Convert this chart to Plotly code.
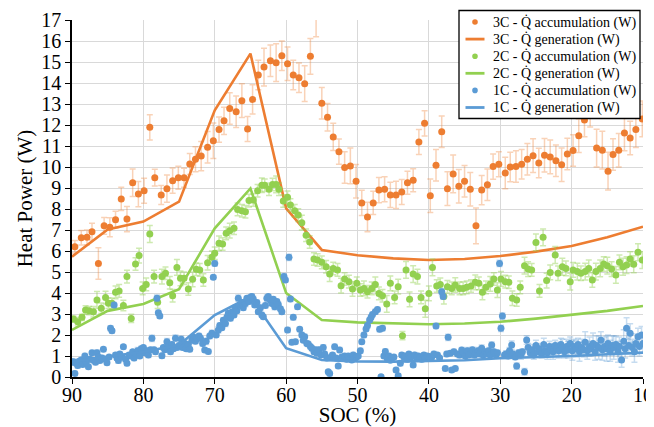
import plotly.graph_objects as go

# ---------------- Generation (model) curves ----------------
gen_soc = [90, 85, 80, 75, 70, 65, 60, 55, 50, 45, 40, 35, 30, 25, 20, 15, 10]
gen_3c = [5.73, 7.03, 7.40, 8.35, 12.70, 15.40, 8.03, 6.05, 5.80, 5.65, 5.57, 5.62, 5.76, 5.97, 6.24, 6.65, 7.16]
gen_2c = [2.24, 3.15, 3.48, 4.18, 7.08, 8.98, 4.00, 2.71, 2.60, 2.55, 2.51, 2.55, 2.63, 2.78, 2.95, 3.15, 3.38]
gen_1c = [0.73, 0.97, 1.20, 1.52, 2.95, 3.82, 1.37, 0.81, 0.74, 0.73, 0.75, 0.80, 0.89, 0.94, 1.00, 1.08, 1.16]

# ---------------- 3C accumulation ----------------
acc3_soc = [89.6, 88.7, 87.9, 87.2, 86.3, 85.5, 84.7, 83.9, 83.1, 82.3, 81.5, 80.7, 79.9, 79.1, 78.4,
            77.5, 76.7, 75.9, 75.1, 74.3, 73.5, 72.7, 71.9, 71.0, 70.2, 69.4, 68.7, 67.9, 67.0, 66.2,
            65.4, 64.7, 63.9, 63.1, 62.2, 61.4, 60.6, 59.8, 59.0, 58.2, 57.4, 56.6, 55.8, 55.0, 54.2,
            53.4, 52.6, 51.8, 51.0, 50.2, 49.4, 48.6, 47.8, 47.0, 46.2, 45.4, 44.6, 43.8, 43.0, 42.2,
            41.4, 40.6, 39.8, 39.0, 38.2, 37.4, 36.6, 35.8, 35.0, 34.2, 33.4, 32.6, 31.8, 31.0, 30.2,
            29.3, 28.6, 27.8, 27.0, 26.2, 25.4, 24.6, 23.8, 23.0, 22.2, 21.4, 20.6, 19.8, 19.0, 18.2,
            17.4, 16.5, 15.7, 14.9, 14.2, 13.4, 12.6, 11.8, 11.0, 10.1]
acc3_val = [6.20, 6.63, 6.65, 6.92, 5.41, 7.20, 7.13, 7.49, 8.48, 7.52, 9.25, 8.71, 8.87, 11.89, 9.49,
            8.67, 8.97, 9.35, 9.49, 9.49, 10.14, 10.37, 10.52, 10.94, 11.25, 11.78, 12.20, 12.79, 12.63, 13.16,
            11.81, 13.22, 14.38, 14.76, 15.06, 14.97, 15.30, 14.92, 14.38, 14.25, 13.97, 15.27, 17.30, 13.03, 12.37,
            11.43, 10.73, 9.98, 10.05, 9.32, 8.29, 7.62, 8.29, 8.90, 8.94, 8.67, 8.67, 8.81, 9.25, 9.37,
            11.19, 12.08, 8.63, 10.08, 11.68, 8.97, 9.67, 9.08, 9.32, 8.94, 7.20, 8.90, 9.16, 10.02, 10.13,
            9.71, 10.00, 10.02, 10.13, 10.37, 10.54, 10.19, 10.56, 10.48, 10.30, 10.11, 10.62, 10.78, 11.49, 12.24,
            12.80, 10.90, 10.80, 9.80, 10.59, 10.80, 11.62, 11.38, 11.78, 12.29]
acc3_err = [0.30, 0.35, 0.35, 0.40, 0.75, 0.40, 0.45, 0.40, 0.55, 0.60, 0.65, 0.60, 0.60, 0.60, 0.40,
            0.45, 0.65, 0.60, 0.55, 0.45, 0.50, 0.60, 0.70, 0.75, 0.85, 0.60, 0.65, 0.75, 0.75, 0.80,
            0.60, 0.70, 0.70, 0.90, 0.75, 0.90, 0.70, 0.80, 0.70, 0.70, 0.85, 0.85, 1.10, 0.75, 0.65,
            0.65, 0.60, 0.75, 0.85, 0.80, 0.60, 0.70, 0.55, 0.60, 0.60, 0.60, 0.65, 0.60, 0.55, 0.55,
            0.60, 0.60, 0.80, 0.75, 0.75, 0.80, 0.90, 0.80, 0.75, 0.80, 0.85, 0.70, 0.75, 0.60, 0.60,
            0.75, 0.70, 0.75, 0.70, 0.75, 0.80, 0.70, 0.80, 0.80, 0.75, 0.80, 0.75, 0.75, 0.80, 0.80,
            0.90, 0.90, 0.90, 0.90, 0.75, 0.80, 0.85, 0.80, 0.85, 0.85]

# ---------------- 2C accumulation ----------------
acc2_soc = [89.8, 89.2, 88.6, 88.1, 87.6, 87.0, 86.5, 85.9, 85.3, 84.9, 84.4, 83.9, 83.4, 82.8, 82.3,
            81.7, 81.1, 80.6, 80.1, 79.6, 79.1, 78.5, 78.0, 77.4, 76.9, 76.3, 75.9, 75.3, 74.8, 74.3,
            73.7, 73.1, 72.6, 72.1, 71.6, 71.0, 70.4, 70.0, 69.4, 68.9, 68.4, 67.9, 67.3, 66.8, 66.2,
            65.7, 65.2, 64.6, 64.0, 63.4, 63.0, 62.4, 61.9, 61.4, 61.0, 60.4, 59.8, 59.4, 58.8, 58.3,
            57.8, 57.2, 56.7, 56.1, 55.6, 55.0, 54.4, 53.9, 53.4, 52.8, 52.3, 51.8, 51.2, 50.7, 50.1,
            49.6, 49.1, 48.6, 48.0, 47.5, 47.0, 46.5, 45.9, 45.4, 44.8, 44.3, 43.7, 43.2, 42.7, 42.2,
            41.6, 41.1, 40.5, 40.0, 39.5, 38.9, 38.4, 37.9, 37.4, 36.8, 36.3, 35.7, 35.2, 34.7, 34.1,
            33.5, 33.0, 32.5, 32.0, 31.4, 30.9, 30.4, 29.9, 29.3, 28.8, 28.3, 27.7, 27.2, 26.6, 26.1,
            25.6, 25.0, 24.5, 24.0, 23.5, 23.0, 22.3, 21.9, 21.3, 20.8, 20.2, 19.8, 19.2, 18.7, 18.1,
            17.6, 17.1, 16.6, 16.0, 15.5, 15.0, 14.4, 13.8, 13.3, 12.8, 12.3, 11.8, 11.3, 10.7, 10.1]
acc2_val = [2.76, 2.63, 2.84, 3.19, 3.16, 3.11, 3.67, 3.27, 3.78, 3.51, 3.51, 4.03, 4.10, 3.40, 4.78,
            2.79, 5.38, 5.78, 4.22, 4.41, 6.81, 4.78, 3.56, 4.78, 4.94, 4.49, 3.87, 5.22, 4.70, 4.70,
            4.19, 4.65, 5.13, 5.10, 4.62, 5.44, 5.70, 5.89, 6.37, 6.33, 6.84, 6.97, 7.08, 7.98, 7.92,
            7.87, 8.40, 8.43, 8.87, 9.13, 9.13, 8.94, 9.17, 9.17, 8.94, 8.38, 8.56, 8.19, 7.92, 7.71,
            7.35, 6.75, 6.43, 5.62, 5.57, 5.46, 5.25, 4.90, 5.17, 5.10, 4.35, 4.67, 4.54, 4.19, 4.46,
            4.14, 4.22, 4.06, 4.22, 4.41, 3.98, 3.87, 3.48, 4.46, 3.79, 4.30, 1.97, 5.10, 3.70, 4.90,
            4.78, 3.79, 3.25, 3.98, 5.22, 4.33, 4.41, 3.83, 4.30, 4.22, 4.38, 4.22, 4.22, 4.27, 4.33,
            4.51, 4.46, 4.03, 4.27, 4.43, 4.67, 4.14, 4.67, 4.54, 4.51, 3.75, 3.67, 4.27, 5.30, 5.14,
            5.10, 6.41, 4.10, 6.65, 4.59, 4.98, 5.81, 4.94, 5.25, 5.17, 4.54, 5.10, 5.02, 4.94, 5.02,
            5.17, 4.62, 5.02, 5.17, 5.38, 5.30, 5.14, 4.86, 5.46, 5.25, 5.33, 5.62, 5.37, 5.94, 5.57]
acc2_err = [0.15, 0.20, 0.15, 0.20, 0.20, 0.25, 0.40, 0.25, 0.30, 0.25, 0.25, 0.30, 0.30, 0.25, 0.30,
            0.20, 0.30, 0.35, 0.30, 0.30, 0.40, 0.30, 0.30, 0.35, 0.30, 0.30, 0.30, 0.38, 0.35, 0.30,
            0.30, 0.35, 0.30, 0.30, 0.30, 0.35, 0.30, 0.30, 0.35, 0.30, 0.30, 0.35, 0.30, 0.30, 0.30,
            0.30, 0.30, 0.30, 0.30, 0.35, 0.30, 0.30, 0.30, 0.40, 0.30, 0.30, 0.30, 0.30, 0.30, 0.30,
            0.35, 0.30, 0.30, 0.30, 0.30, 0.30, 0.30, 0.35, 0.30, 0.30, 0.35, 0.30, 0.30, 0.35, 0.30,
            0.30, 0.35, 0.30, 0.30, 0.35, 0.30, 0.30, 0.40, 0.35, 0.30, 0.35, 0.20, 0.40, 0.35, 0.40,
            0.35, 0.30, 0.40, 0.35, 0.40, 0.30, 0.30, 0.35, 0.30, 0.30, 0.35, 0.30, 0.30, 0.30, 0.30,
            0.35, 0.30, 0.35, 0.30, 0.35, 0.30, 0.35, 0.35, 0.30, 0.30, 0.35, 0.30, 0.30, 0.40, 0.35,
            0.30, 0.40, 0.30, 0.40, 0.35, 0.35, 0.40, 0.35, 0.40, 0.35, 0.40, 0.35, 0.40, 0.35, 0.40,
            0.40, 0.35, 0.40, 0.40, 0.35, 0.40, 0.35, 0.40, 0.35, 0.40, 0.40, 0.35, 0.40, 0.40, 0.40]

# ---------------- 1C accumulation ----------------
acc1_soc = [90.0, 89.8, 89.6, 89.4, 89.2, 89.0, 88.7, 88.5, 88.2, 88.0, 87.7, 87.5, 87.2, 87.0, 86.7,
            86.5, 86.3, 86.1, 85.8, 85.6, 85.3, 85.1, 84.8, 84.6, 84.4, 84.1, 83.9, 83.7, 83.5, 83.3,
            83.0, 82.8, 82.5, 82.3, 82.0, 81.8, 81.5, 81.3, 81.0, 80.8, 80.5, 80.3, 80.0, 79.8, 79.5,
            79.3, 79.0, 78.8, 78.5, 78.3, 78.1, 77.9, 77.7, 77.4, 77.2, 77.0, 76.7, 76.5, 76.2, 76.0,
            75.8, 75.5, 75.3, 75.0, 74.7, 74.5, 74.2, 74.0, 73.7, 73.5, 73.2, 73.0, 72.7, 72.5, 72.2,
            72.0, 71.7, 71.4, 71.2, 70.9, 70.7, 70.4, 70.2, 70.0, 69.8, 69.5, 69.3, 69.0, 68.8, 68.5,
            68.3, 68.1, 67.8, 67.6, 67.3, 67.1, 66.9, 66.7, 66.4, 66.2, 66.0, 65.7, 65.5, 65.2, 65.0,
            64.8, 64.6, 64.4, 64.1, 63.9, 63.6, 63.4, 63.2, 62.9, 62.7, 62.5, 62.2, 62.0, 61.8, 61.6,
            61.3, 61.1, 60.8, 60.6, 60.3, 60.1, 59.8, 59.6, 59.4, 59.2, 59.0, 58.7, 58.4, 58.1, 57.8,
            57.6, 57.4, 57.1, 56.9, 56.6, 56.4, 56.1, 55.9, 55.7, 55.4, 55.1, 54.8, 54.6, 54.3, 54.1,
            53.9, 53.7, 53.5, 53.2, 53.0, 52.7, 52.5, 52.2, 52.0, 51.8, 51.5, 51.3, 51.0, 50.8, 50.6,
            50.3, 50.1, 49.9, 49.6, 49.4, 49.1, 48.8, 48.6, 48.3, 48.1, 47.9, 47.5, 47.2, 46.9, 46.7,
            46.5, 46.3, 46.1, 45.8, 45.6, 45.4, 45.2, 44.9, 44.6, 44.3, 44.0, 43.8, 43.5, 43.3, 43.0,
            42.8, 42.5, 42.2, 42.0, 41.7, 41.5, 41.2, 41.0, 40.7, 40.5, 40.2, 39.8, 39.6, 39.3, 39.0,
            38.8, 38.5, 38.2, 38.0, 37.7, 37.5, 37.3, 37.0, 36.8, 36.5, 36.3, 36.0, 35.7, 35.4, 35.2,
            34.9, 34.6, 34.4, 34.1, 33.9, 33.6, 33.4, 33.1, 32.9, 32.6, 32.4, 32.1, 31.9, 31.6, 31.4,
            31.2, 30.9, 30.6, 30.4, 30.1, 29.9, 29.7, 29.4, 29.2, 28.9, 28.7, 28.4, 28.2, 27.9, 27.7,
            27.4, 27.1, 26.9, 26.6, 26.3, 26.1, 25.8, 25.5, 25.3, 25.0, 24.7, 24.5, 24.2, 23.9, 23.7,
            23.4, 23.1, 22.9, 22.6, 22.3, 22.1, 21.8, 21.5, 21.3, 21.0, 20.7, 20.5, 20.2, 19.9, 19.7,
            19.4, 19.1, 18.9, 18.6, 18.3, 18.1, 17.8, 17.5, 17.3, 17.0, 16.7, 16.5, 16.2, 15.9, 15.7,
            15.4, 15.1, 14.9, 14.6, 14.3, 14.1, 13.8, 13.5, 13.3, 13.0, 12.7, 12.5, 12.3, 12.0, 11.8,
            11.5, 11.2, 11.0, 10.7, 10.5, 10.2, 10.0]
acc1_val = [0.70, 0.73, 0.17, 0.65, 0.55, 0.75, 0.81, 0.60, 1.00, 0.72, 0.49, 0.85, 1.16, 0.80, 0.70,
            1.16, 0.95, 0.78, 0.90, 1.32, 0.85, 0.68, 0.95, 2.32, 2.20, 3.43, 1.05, 0.90, 0.78, 1.10,
            0.95, 1.44, 0.85, 0.65, 1.05, 1.00, 1.20, 0.90, 1.10, 1.25, 1.00, 1.35, 1.40, 1.15, 1.25,
            1.05, 1.30, 1.84, 1.30, 1.20, 3.75, 3.06, 2.90, 1.01, 1.40, 1.30, 1.68, 1.45, 1.20, 1.55,
            1.35, 1.85, 1.40, 1.50, 1.80, 1.40, 1.60, 1.35, 1.55, 1.32, 1.75, 1.90, 1.70, 1.84, 1.95,
            1.85, 1.60, 1.29, 1.70, 1.21, 1.95, 2.08, 4.75, 5.41, 2.00, 2.24, 2.45, 2.35, 2.70, 2.55,
            2.85, 3.03, 2.80, 3.10, 2.95, 3.30, 3.15, 3.75, 3.40, 3.55, 3.30, 3.50, 3.75, 3.60, 3.80,
            3.83, 3.70, 3.43, 3.55, 3.11, 3.30, 2.95, 2.87, 3.40, 3.75, 3.83, 3.65, 3.50, 3.70, 3.35,
            3.60, 3.45, 3.25, 3.11, 4.78, 4.62, 2.24, 5.70, 3.71, 1.65, 2.84, 1.68, 3.35, 2.27, 2.00,
            1.75, 1.92, 1.60, 1.57, 1.45, 1.37, 1.20, 1.30, 1.13, 1.30, 1.05, 1.41, 1.10, 0.90, 0.25,
            0.17, 0.95, 1.05, 1.44, 0.90, 0.52, 1.29, 0.95, 0.89, 1.00, 0.85, 1.00, 0.90, 0.81, 1.05,
            0.90, 0.97, 1.00, 1.25, 1.68, 2.00, 2.29, 2.45, 2.71, 2.85, 2.98, 3.11, 3.22, 2.27, 0.01,
            2.32, 1.00, 1.21, 0.85, 1.00, 0.80, 0.89, 0.95, 0.33, 0.06, 0.65, 1.05, 0.95, 1.00, 0.85,
            1.10, 0.95, 0.57, 1.05, 0.90, 1.00, 0.95, 0.85, 1.05, 0.90, 1.00, 0.97, 0.95, 1.10, 2.43,
            1.05, 0.90, 4.06, 3.83, 0.41, 1.10, 1.89, 1.13, 0.33, 1.20, 0.41, 1.10, 1.05, 1.29, 1.15,
            1.00, 1.25, 1.05, 1.10, 1.30, 1.05, 1.15, 1.25, 1.10, 1.37, 1.05, 1.20, 1.10, 1.25, 1.05,
            1.52, 1.20, 1.05, 1.15, 5.41, 2.32, 2.90, 1.05, 1.10, 1.00, 1.25, 1.52, 1.10, 0.95, 0.52,
            1.15, 1.05, 1.20, 0.25, 1.76, 1.40, 1.15, 1.30, 1.05, 1.50, 1.20, 1.35, 1.10, 1.55, 1.25,
            1.15, 1.45, 1.30, 1.20, 1.50, 1.35, 1.25, 1.55, 1.40, 1.20, 1.45, 1.30, 1.60, 1.25, 1.45,
            1.35, 1.55, 1.20, 1.40, 1.30, 1.65, 1.25, 1.45, 1.35, 1.60, 1.20, 1.50, 1.40, 1.75, 1.30,
            1.45, 1.35, 1.60, 1.25, 1.50, 1.40, 1.55, 1.20, 1.45, 0.81, 1.70, 1.35, 2.32, 1.50, 2.08,
            1.40, 1.20, 1.60, 1.92, 1.45, 2.00, 1.60]
acc1_err = [0.10, 0.12, 0.10, 0.10, 0.12, 0.10, 0.12, 0.10, 0.12, 0.10, 0.10, 0.12, 0.10, 0.12, 0.10,
            0.12, 0.10, 0.10, 0.12, 0.10, 0.12, 0.10, 0.10, 0.12, 0.10, 0.12, 0.10, 0.10, 0.12, 0.10,
            0.12, 0.10, 0.12, 0.10, 0.10, 0.12, 0.10, 0.12, 0.10, 0.15, 0.10, 0.12, 0.10, 0.12, 0.10,
            0.12, 0.10, 0.15, 0.10, 0.12, 0.15, 0.12, 0.10, 0.12, 0.10, 0.12, 0.15, 0.10, 0.12, 0.10,
            0.12, 0.15, 0.10, 0.12, 0.15, 0.10, 0.12, 0.10, 0.12, 0.10, 0.15, 0.12, 0.10, 0.15, 0.12,
            0.10, 0.12, 0.10, 0.15, 0.10, 0.12, 0.15, 0.10, 0.12, 0.10, 0.15, 0.12, 0.10, 0.12, 0.15,
            0.12, 0.10, 0.12, 0.15, 0.10, 0.12, 0.10, 0.15, 0.12, 0.10, 0.12, 0.15, 0.10, 0.12, 0.10,
            0.12, 0.15, 0.10, 0.12, 0.10, 0.15, 0.12, 0.10, 0.12, 0.15, 0.10, 0.12, 0.10, 0.12, 0.15,
            0.10, 0.12, 0.10, 0.12, 0.15, 0.10, 0.12, 0.15, 0.12, 0.10, 0.12, 0.10, 0.12, 0.10, 0.12,
            0.10, 0.12, 0.10, 0.12, 0.10, 0.12, 0.10, 0.12, 0.10, 0.12, 0.10, 0.12, 0.10, 0.12, 0.10,
            0.10, 0.12, 0.10, 0.12, 0.10, 0.10, 0.12, 0.10, 0.12, 0.10, 0.12, 0.10, 0.12, 0.10, 0.12,
            0.10, 0.12, 0.10, 0.12, 0.10, 0.12, 0.10, 0.12, 0.10, 0.12, 0.10, 0.12, 0.10, 0.12, 0.10,
            0.12, 0.10, 0.12, 0.10, 0.12, 0.10, 0.12, 0.10, 0.10, 0.10, 0.12, 0.10, 0.12, 0.10, 0.12,
            0.10, 0.12, 0.10, 0.12, 0.10, 0.12, 0.10, 0.12, 0.10, 0.12, 0.10, 0.12, 0.10, 0.12, 0.12,
            0.10, 0.12, 0.15, 0.12, 0.10, 0.12, 0.15, 0.12, 0.10, 0.12, 0.10, 0.12, 0.15, 0.12, 0.15,
            0.12, 0.15, 0.12, 0.15, 0.12, 0.15, 0.12, 0.15, 0.12, 0.15, 0.12, 0.15, 0.12, 0.15, 0.12,
            0.15, 0.12, 0.15, 0.12, 0.15, 0.15, 0.15, 0.12, 0.15, 0.12, 0.15, 0.20, 0.15, 0.12, 0.15,
            0.15, 0.20, 0.15, 0.15, 0.20, 0.20, 0.15, 0.25, 0.20, 0.25, 0.20, 0.25, 0.20, 0.30, 0.25,
            0.30, 0.25, 0.30, 0.35, 0.25, 0.30, 0.35, 0.30, 0.40, 0.30, 0.35, 0.40, 0.30, 0.45, 0.35,
            0.40, 0.30, 0.45, 0.40, 0.35, 0.50, 0.40, 0.45, 0.35, 0.50, 0.40, 0.45, 0.55, 0.40, 0.50,
            0.45, 0.60, 0.40, 0.50, 0.45, 0.55, 0.40, 0.50, 0.45, 0.35, 0.55, 0.45, 0.50, 0.40, 0.45,
            0.40, 0.50, 0.45, 0.40, 0.45, 0.40, 0.45]

ORANGE = "#ED7D31"
GREEN = "#92D050"
BLUE = "#5B9BD5"
ORANGE_ERR = "rgba(237,125,49,0.35)"
GREEN_ERR = "rgba(146,208,80,0.45)"
BLUE_ERR = "rgba(91,155,213,0.35)"

x_ticks = [90, 80, 70, 60, 50, 40, 30, 20, 10]
y_ticks = list(range(0, 18))

legend_names = ["3C - Q\u0307 accumulation (W)", "3C - Q\u0307 generation (W)",
                "2C - Q\u0307 accumulation (W)", "2C - Q\u0307 generation (W)",
                "1C - Q\u0307 accumulation (W)", "1C - Q\u0307 generation (W)"]
legend_colors = [ORANGE, ORANGE, GREEN, GREEN, BLUE, BLUE]
legend_kinds = ["marker", "line", "marker", "line", "marker", "line"]

fig = go.Figure()


def acc_trace(x, y, err, color, ecolor, name):
    return go.Scatter(x=x, y=y, mode="markers", name=name,
                      marker=dict(color=color, size=7),
                      error_y=dict(type="data", array=err, visible=True,
                                   color=ecolor, thickness=1.5, width=3))


def gen_trace(x, y, color, name):
    return go.Scatter(x=x, y=y, mode="lines", name=name,
                      line=dict(color=color, width=2.6))


fig.add_trace(acc_trace(acc3_soc, acc3_val, acc3_err, ORANGE, ORANGE_ERR, legend_names[0]))
fig.add_trace(gen_trace(gen_soc, gen_3c, ORANGE, legend_names[1]))
fig.add_trace(acc_trace(acc2_soc, acc2_val, acc2_err, GREEN, GREEN_ERR, legend_names[2]))
fig.add_trace(gen_trace(gen_soc, gen_2c, GREEN, legend_names[3]))
fig.add_trace(acc_trace(acc1_soc, acc1_val, acc1_err, BLUE, BLUE_ERR, legend_names[4]))
fig.add_trace(gen_trace(gen_soc, gen_1c, BLUE, legend_names[5]))

FONT = "Liberation Serif"

# ---- compact legend box (Excel-like row spacing), drawn in paper coordinates ----
PLOT_W, PLOT_H = 571.0, 357.0      # plot area size in px


def px_x(dx):
    return dx / PLOT_W


def px_y(dy):
    return dy / PLOT_H


box_left, box_right = 1.0 - px_x(184), 1.0 - px_x(3)
box_top, box_bottom = 1.0 + px_y(9.5), 1.0 + px_y(9.5) - px_y(108)
row_top = 1.0 + px_y(9.5) - px_y(11.5)
row_step = px_y(17.1)
sym_center = box_left + px_x(16)
text_left = box_left + px_x(32)

shapes = [dict(type="rect", xref="paper", yref="paper", x0=box_left, x1=box_right,
               y0=box_bottom, y1=box_top, fillcolor="white",
               line=dict(color="black", width=1.3), layer="above")]
annotations = []
for i, (name, col, kind) in enumerate(zip(legend_names, legend_colors, legend_kinds)):
    yy = row_top - i * row_step
    if kind == "marker":
        shapes.append(dict(type="circle", xref="paper", yref="paper",
                           xsizemode="pixel", ysizemode="pixel",
                           xanchor=sym_center, yanchor=yy, x0=-2.8, x1=2.8, y0=-2.8, y1=2.8,
                           fillcolor=col, line=dict(color=col, width=0), layer="above"))
    else:
        shapes.append(dict(type="line", xref="paper", yref="paper",
                           x0=sym_center - px_x(9.5), x1=sym_center + px_x(9.5), y0=yy, y1=yy,
                           line=dict(color=col, width=2.8), layer="above"))
    annotations.append(dict(text=name, xref="paper", yref="paper", x=text_left, y=yy,
                            xanchor="left", yanchor="middle", showarrow=False,
                            font=dict(family=FONT, size=14, color="black")))

# page body has an 8px default margin: the figure is sized so that
# the plot lands at the reference position inside the 654x427 window
fig.update_layout(
    width=646, height=419,
    margin=dict(l=64, r=11, t=12, b=50, autoexpand=False),
    paper_bgcolor="white", plot_bgcolor="white",
    font=dict(family=FONT, color="black", size=20),
    showlegend=False,
    shapes=shapes,
    annotations=annotations,
    xaxis=dict(range=[90, 10], tickvals=x_ticks, ticktext=[str(v) for v in x_ticks],
               showgrid=True, gridcolor="#D9D9D9", gridwidth=1,
               showline=True, linecolor="black", linewidth=1.5,
               ticks="outside", ticklen=5, tickcolor="black",
               zeroline=False, tickfont=dict(family=FONT, size=20),
               ticklabelstandoff=-6,
               title=dict(text="SOC (%)", font=dict(family=FONT, size=21), standoff=11)),
    yaxis=dict(range=[0, 17], tickvals=y_ticks, ticktext=[str(v) for v in y_ticks],
               showgrid=True, gridcolor="#D9D9D9", gridwidth=1,
               showline=True, linecolor="black", linewidth=1.5,
               ticks="outside", ticklen=5, tickcolor="black",
               zeroline=False, tickfont=dict(family=FONT, size=20),
               title=dict(text="Heat Power (W)", font=dict(family=FONT, size=21), standoff=3)),
)

fig.write_html("out.html")
